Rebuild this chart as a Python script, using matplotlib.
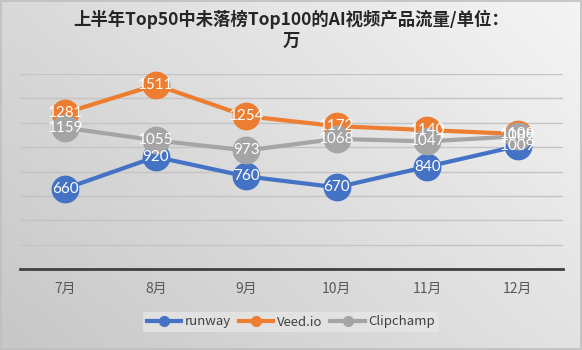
import numpy as np
import matplotlib
matplotlib.use("Agg")
import matplotlib.pyplot as plt
from matplotlib.lines import Line2D

plt.rcParams['font.family'] = ['Noto Sans CJK SC', 'DejaVu Sans']

months = ["7月", "8月", "9月", "10月", "11月", "12月"]
runway = [660, 920, 760, 670, 840, 1009]
veed = [1281, 1511, 1254, 1172, 1140, 1108]
clipchamp = [1159, 1055, 973, 1068, 1047, 1089]
series_names = ["runway", "Veed.io", "Clipchamp"]
colors = ["#4472C4", "#ED7D31", "#A5A5A5"]
title = "上半年Top50中未落榜Top100的AI视频产品流量/单位：\n万"

W, H = 582, 350
fig = plt.figure(figsize=(W / 100, H / 100), dpi=100)

# gradient background
bg = fig.add_axes([0, 0, 1, 1], zorder=-10)
yy, xx = np.mgrid[0:1:200j, 0:1:300j]
t = (xx * 0.6 + (1 - yy) * 0.4)
grad = 0.78 + 0.18 * t
bg.imshow(np.dstack([grad, grad, grad]), extent=[0, 1, 0, 1], aspect='auto', origin='upper')
bg.set_xlim(0, 1); bg.set_ylim(0, 1)
bg.axis('off')
bg.add_patch(plt.Rectangle((0.001, 0.002), 0.997, 0.995, fill=False, ec="#bfbfbf", lw=1.2))

ax = fig.add_axes([20 / W, 1 - 269 / H, (563 - 20) / W, (269 - 74) / H])
ax.set_facecolor("none")
x = np.arange(len(months))
ax.set_xlim(-0.5, len(months) - 0.5)
ax.set_ylim(0, 1600)
ax.set_yticks(np.arange(200, 1601, 200))
ax.yaxis.grid(True, color="#c4c4c4", lw=1.0)
ax.tick_params(axis='y', left=False, labelleft=False)
ax.tick_params(axis='x', bottom=False, labelsize=10, colors="#595959", pad=6)
ax.set_xticks(x)
ax.set_xticklabels(months)
for s in ["top", "right", "left"]:
    ax.spines[s].set_visible(False)
ax.spines["bottom"].set_color("#404040")
ax.spines["bottom"].set_linewidth(2)
ax.set_axisbelow(True)

for i, (vals, name, c) in enumerate(zip([runway, veed, clipchamp], series_names, colors)):
    ax.plot(x, vals, color=c, lw=3, marker='o', ms=19, mfc=c, mec=c, label=name, zorder=3 + i, clip_on=False)
for i, (vals, c) in enumerate(zip([runway, veed, clipchamp], colors)):
    for xi, v in zip(x, vals):
        ax.text(xi, v, str(v), color="white", fontsize=11, ha="center", va="center",
                family=["Lato", "DejaVu Sans"], zorder=10)

fig.text(0.5, 1 - 30 / H, title, ha="center", va="center", fontsize=12.5, fontweight="bold",
         color="#262626", linespacing=1.25)

handles = [Line2D([0], [0], color=c, lw=3, marker='o', ms=7) for c in colors]
leg = fig.legend(handles, series_names, loc="center", bbox_to_anchor=(0.5, 1 - 322 / H), ncol=3,
                 frameon=True, fontsize=9.5, handlelength=2.6, columnspacing=0.6, handletextpad=0.3,
                 borderpad=0.3)
leg.get_frame().set_facecolor("#e6e6e6")
leg.get_frame().set_edgecolor("none")
leg.get_frame().set_alpha(0.8)
for t_ in leg.get_texts():
    t_.set_color("#404040")

fig.savefig("out.png", dpi=100)
